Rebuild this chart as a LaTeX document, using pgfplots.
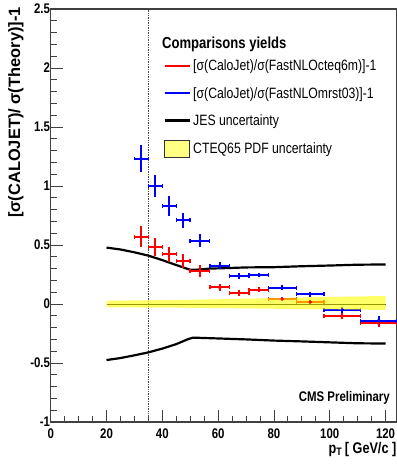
\documentclass[border=0pt]{standalone}
\usepackage{fontspec}
\setmainfont{Liberation Sans}[FakeStretch=0.82]
\newfontfamily\ylfont{Liberation Sans}
\usepackage{pgfplots}
\pgfplotsset{compat=1.18}
\usepackage{pgfplotstable}
\definecolor{bandyel}{RGB}{255,255,0}
\definecolor{boxyel}{RGB}{255,255,130}
\definecolor{rootred}{RGB}{255,0,0}
\definecolor{rootblue}{RGB}{0,0,255}
\pgfplotsset{
  leglinestyle/.style={legend image code/.code={\draw[##1] (0bp,0bp) -- (25bp,0bp);}},
  legboxstyle/.style={legend image code/.code={\draw[##1] (0bp,-8.5bp) rectangle (25bp,8.5bp);}},
}
\pgfplotstableread{
x xe y ye
32.5 2.5 0.57 0.09
37.5 2.5 0.485 0.078
42.5 2.5 0.42 0.06
47.5 2.5 0.365 0.057
53.5 3.5 0.28 0.047
60.5 3.5 0.14 0.03
67.5 3.5 0.09 0.025
74.5 3.5 0.12 0.02
83 5 0.043 0.015
93 5 0.017 0.015
104.5 6.5 -0.10 0.025
117.5 6.5 -0.165 0.03
}\redtab
\pgfplotstableread{
x xe y ye
32.5 2.5 1.233 0.118
37.5 2.5 1.0 0.097
42.5 2.5 0.83 0.082
47.5 2.5 0.708 0.064
53.5 3.5 0.537 0.054
60.5 3.5 0.324 0.03
67.5 3.5 0.236 0.025
74.5 3.5 0.245 0.02
83 5 0.139 0.02
93 5 0.083 0.02
104.5 6.5 -0.05 0.025
117.5 6.5 -0.14 0.035
}\bluetab
\begin{document}
\begin{tikzpicture}
\begin{axis}[
  scale only axis, width=346bp, height=413bp,
  xmin=0, xmax=124, ymin=-1, ymax=2.5,
  xtick={0,20,40,60,80,100,120},
  ytick={-1,-0.5,0,0.5,1,1.5,2,2.5},
  minor x tick num=3, minor y tick num=4,
  tick align=inside, xtick pos=left, ytick pos=left,
  major tick length=12bp, minor tick length=6bp,
  axis line style={line width=1.2pt, black!75},
  every tick/.style={black!75, line width=0.8pt},
  tick label style={font=\fontsize{14}{14}\selectfont\bfseries},
  /pgf/number format/assume math mode=true,
  yticklabel style={inner xsep=0.5pt},
  xticklabel style={yshift=-3bp},
  clip=false,
  legend style={at={(rel axis cs:0.3246,0.882)}, anchor=north west,
    draw=none, fill=white, inner sep=0pt, row sep=11bp,
    nodes={inner sep=2pt}, font=\fontsize{15}{15}\selectfont},
  legend cell align=left,
]
% legend images
\addlegendimage{draw=rootred, line width=2bp, leglinestyle}
\addlegendentry{[σ(CaloJet)/σ(FastNLOcteq6m)]-1}
\addlegendimage{draw=rootblue, line width=2bp, leglinestyle}
\addlegendentry{[σ(CaloJet)/σ(FastNLOmrst03)]-1}
\addlegendimage{draw=black, line width=3bp, leglinestyle}
\addlegendentry{JES uncertainty}
\addlegendimage{fill=boxyel, draw=black!80, line width=0.8pt, legboxstyle}
\addlegendentry{CTEQ65 PDF uncertainty}

% dotted cut line
\addplot[black!70, densely dotted, line width=0.7pt, forget plot] coordinates {(35,-1) (35,2.5)};
% JES
\addplot[black, line width=2.2pt, forget plot] coordinates {
(20,0.478) (25,0.462) (30,0.438) (35,0.41) (40,0.372) (45,0.33) (50,0.29) (52,0.29) (57,0.30) (64,0.305) (70,0.31) (80,0.312) (90,0.32) (100,0.326) (110,0.333) (120,0.335)};
\addplot[black, line width=2.2pt, forget plot] coordinates {
(20,-0.475) (25,-0.458) (30,-0.435) (35,-0.41) (40,-0.378) (45,-0.34) (49,-0.3) (51,-0.285) (60,-0.292) (70,-0.3) (80,-0.31) (90,-0.317) (100,-0.325) (110,-0.333) (120,-0.335)};
% red data
\addplot[rootred, line width=2bp, only marks, mark=*, mark size=0.2pt, forget plot,
  error bars/.cd, x dir=both, x explicit,
  error bar style={rootred, line width=2bp},
  error mark options={rootred, line width=1.5bp, mark size=2pt, rotate=90}]
  table[x=x, y=y, x error=xe] {\redtab};
\addplot[rootred, line width=2bp, only marks, mark=*, mark size=0.2pt, forget plot,
  error bars/.cd, y dir=both, y explicit, error mark=none,
  error bar style={rootred, line width=2bp}]
  table[x=x, y=y, y error=ye] {\redtab};
% blue data
\addplot[rootblue, line width=2bp, only marks, mark=*, mark size=0.2pt, forget plot,
  error bars/.cd, x dir=both, x explicit,
  error bar style={rootblue, line width=2bp},
  error mark options={rootblue, line width=1.5bp, mark size=2pt, rotate=90}]
  table[x=x, y=y, x error=xe] {\bluetab};
\addplot[rootblue, line width=2bp, only marks, mark=*, mark size=0.2pt, forget plot,
  error bars/.cd, y dir=both, y explicit, error mark=none,
  error bar style={rootblue, line width=2bp}]
  table[x=x, y=y, y error=ye] {\bluetab};
% zero line and PDF band
\addplot[black, line width=0.8pt, forget plot] coordinates {(20,0) (120,0)};
\addplot[fill=bandyel, draw=none, fill opacity=0.6, forget plot] coordinates {
(20,0.028) (50,0.035) (80,0.05) (100,0.06) (120,0.068)
(120,-0.05) (100,-0.046) (80,-0.04) (50,-0.032) (20,-0.028)} -- cycle;
\end{axis}
\node[anchor=base west, inner sep=0pt, font=\fontsize{16}{16}\selectfont\bfseries] at (111.3bp,373.7bp) {Comparisons yields};
\node[anchor=base east, inner sep=0pt, font=\fontsize{14}{14}\selectfont\bfseries] at (339.3bp,21bp) {CMS Preliminary};
\node[anchor=base east, inner sep=0pt, font=\fontsize{15.5}{15.5}\selectfont\bfseries] at (345.8bp,-31bp) {p\textsubscript{T}\,[ GeV/c ]};
\node[rotate=90, anchor=north east, inner sep=0pt, font=\ylfont\fontsize{16.5}{16.5}\selectfont\bfseries] at (-42.7bp,415bp) {[σ(CALOJET)/ σ(Theory)]-1};
\pgfresetboundingbox
\path (-50.7bp,-42bp) rectangle (346.3bp,422bp);
\end{tikzpicture}
\end{document}
